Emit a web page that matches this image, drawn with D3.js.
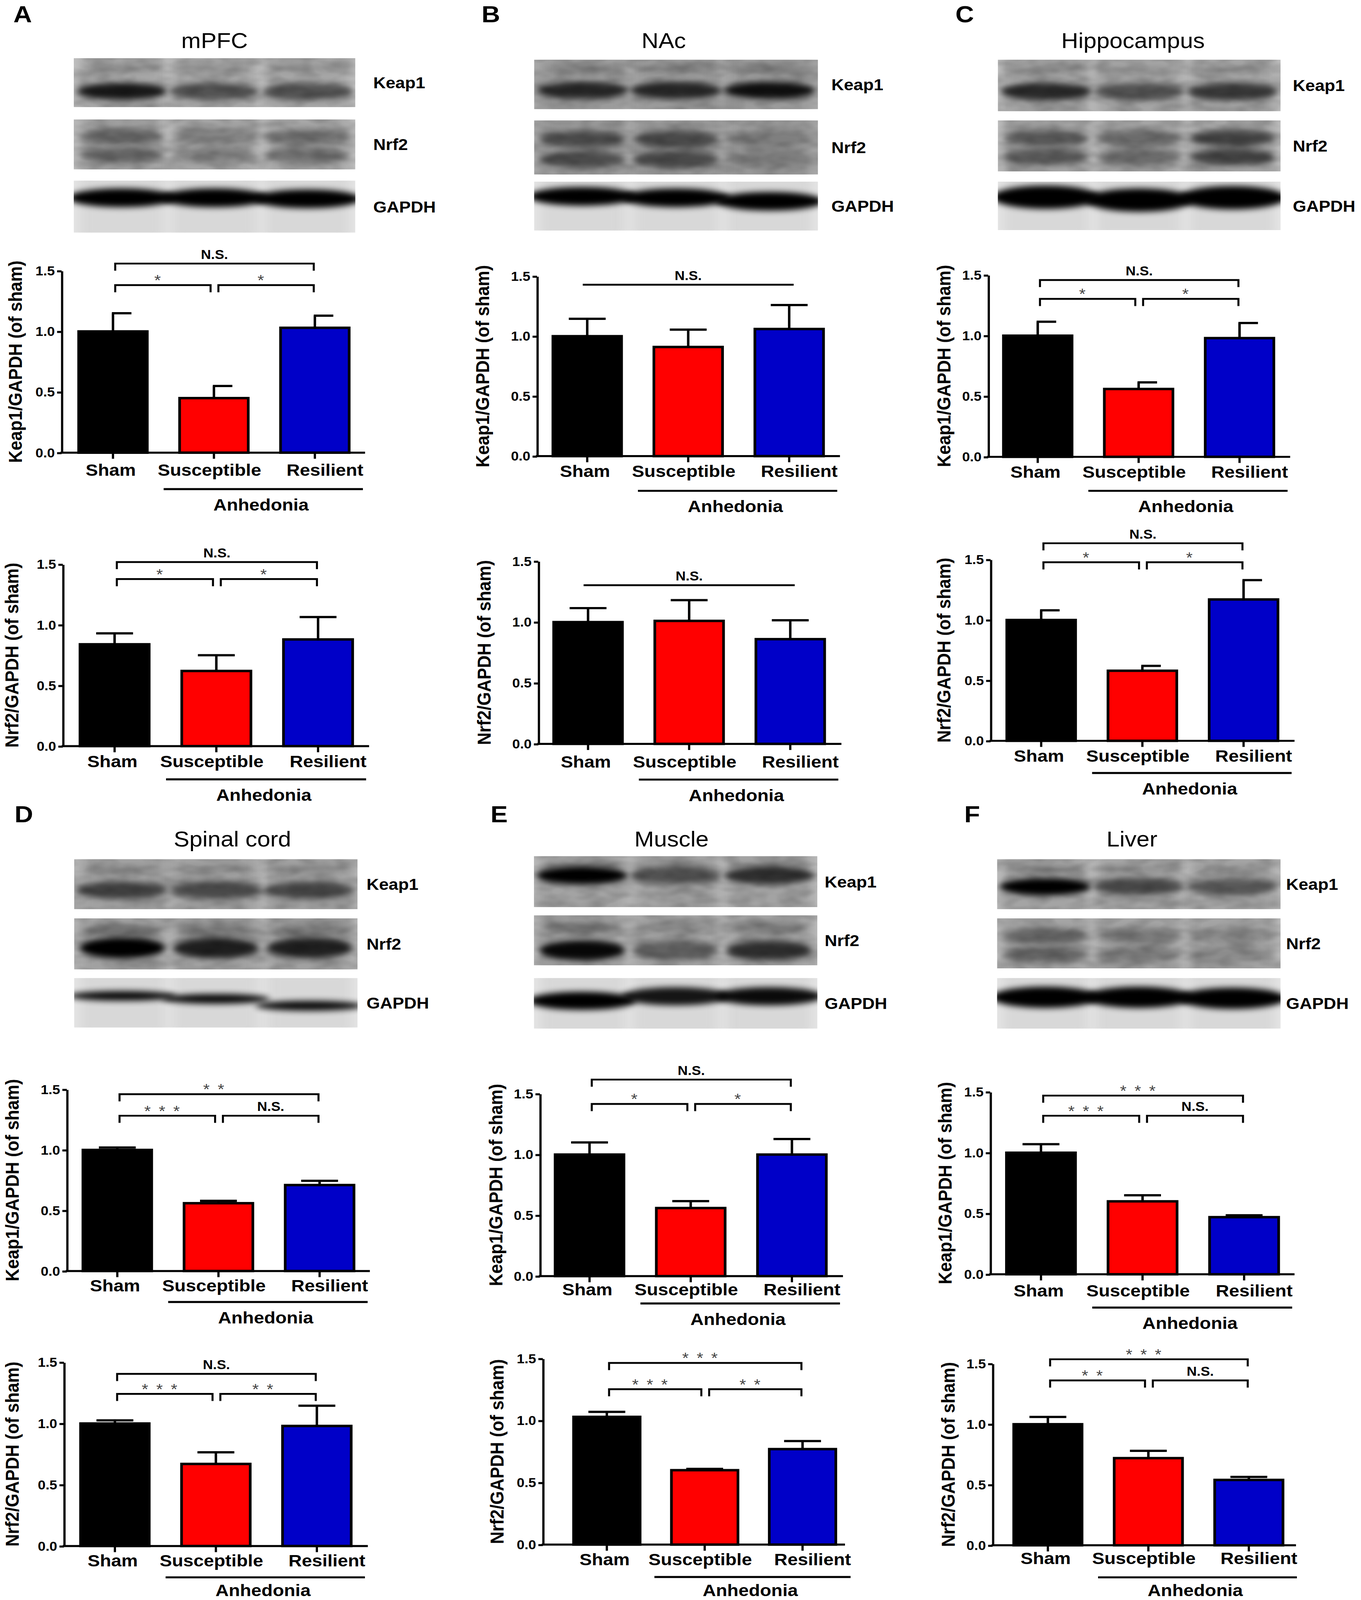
<!DOCTYPE html>
<html>
<head>
<meta charset="utf-8">
<script src="https://cdn.jsdelivr.net/npm/d3@7"></script>
<style>
  html, body { margin: 0; padding: 0; background: #fff; overflow: hidden; }
  #fig { display: block; width: 100vw; height: 100vh; }
  text { font-family: "Liberation Sans", Arial, sans-serif; }
</style>
</head>
<body>
<svg id="fig"></svg>
<script>
let groups = ['Sham', 'Susceptible', 'Resilient']
let tissues = ['mPFC', 'NAc', 'Hippocampus', 'Spinal cord', 'Muscle', 'Liver']
let letters = ['A', 'B', 'C', 'D', 'E', 'F']
let yTicks = [0, 0.5, 1.0, 1.5]

// bar heights and SEM (upper whisker) per tissue, order = groups
let keap1Mean = [[1.00, 0.45, 1.03], [1.00, 0.91, 1.06], [1.00, 0.56, 0.98], [1.00, 0.56, 0.71], [1.00, 0.56, 1.00], [1.00, 0.60, 0.47]]
let keap1Err = [[0.15, 0.10, 0.10], [0.145, 0.145, 0.20], [0.115, 0.055, 0.125], [0.02, 0.02, 0.035], [0.10, 0.057, 0.128], [0.07, 0.05, 0.015]]
let nrf2Mean = [[0.84, 0.62, 0.88], [1.00, 1.01, 0.86], [1.00, 0.58, 1.17], [1.00, 0.67, 0.98], [1.03, 0.60, 0.77], [1.00, 0.72, 0.54]]
let nrf2Err = [[0.09, 0.13, 0.185], [0.115, 0.17, 0.155], [0.08, 0.04, 0.16], [0.026, 0.095, 0.165], [0.04, 0.01, 0.065], [0.06, 0.06, 0.025]]

// comparisons: [from, to, label]
let keap1Sig = [
  [[0, 1, '*'], [1, 2, '*'], [0, 2, 'N.S.']],
  [[0, 2, 'N.S.']],
  [[0, 1, '*'], [1, 2, '*'], [0, 2, 'N.S.']],
  [[0, 1, '***'], [1, 2, 'N.S.'], [0, 2, '**']],
  [[0, 1, '*'], [1, 2, '*'], [0, 2, 'N.S.']],
  [[0, 1, '***'], [1, 2, 'N.S.'], [0, 2, '***']]
]
let nrf2Sig = [
  [[0, 1, '*'], [1, 2, '*'], [0, 2, 'N.S.']],
  [[0, 2, 'N.S.']],
  [[0, 1, '*'], [1, 2, '*'], [0, 2, 'N.S.']],
  [[0, 1, '***'], [1, 2, '**'], [0, 2, 'N.S.']],
  [[0, 1, '***'], [1, 2, '**'], [0, 2, '***']],
  [[0, 1, '**'], [1, 2, 'N.S.'], [0, 2, '***']]
]

// western blot band darkness per lane
let keap1Blot = [[0.85, 0.5, 0.5], [0.75, 0.75, 0.9], [0.75, 0.5, 0.65], [0.6, 0.55, 0.55], [1, 0.5, 0.7], [1, 0.55, 0.45]]
let nrf2Blot = [[0.55, 0.3, 0.45], [0.7, 0.75, 0.25], [0.65, 0.5, 0.85], [1, 0.8, 0.8], [0.95, 0.4, 0.7], [0.55, 0.35, 0.2]]
let gapdhBlot = [[1, 1, 1], [1, 1, 1], [1, 1, 1], [0.95, 0.95, 0.95], [1, 0.9, 0.95], [1, 1, 1]]
let keap1Y = [0.68, 0.62, 0.62, 0.62, 0.38, 0.55]
let nrf2Y = [null, null, null, 0.58, 0.7, null]
let gapdhY = [[0.33, 0.33, 0.35], [0.3, 0.33, 0.4], [0.32, 0.38, 0.33], [0.36, 0.42, 0.56], [0.45, 0.36, 0.36], [0.38, 0.38, 0.4]]
let gapdhH = [0.36, 0.38, 0.48, 0.2, 0.36, 0.42]
let stripGray = ['#c4c4c4', '#ababab', '#c0c0c0', '#b8b8b8', '#bcbcbc', '#bfbfbf']

let panelPos = [
  {letter: [12, 22], title: [192, 47], blotX: [66, 318], blotY: [[57, 105], [117, 166], [177, 228]], labX: 334},
  {letter: [431, 22], title: [594, 47], blotX: [478, 732], blotY: [[58.5, 107], [118, 171], [178, 226]], labX: 744},
  {letter: [855, 22], title: [1014, 47], blotX: [893, 1146], blotY: [[58.5, 109], [118, 168], [178, 225.5]], labX: 1157},
  {letter: [13, 806], title: [208, 829.5], blotX: [66.4, 320], blotY: [[842, 891], [900, 950], [958.5, 1007]], labX: 328},
  {letter: [439, 806], title: [601, 829.5], blotX: [477.8, 731.5], blotY: [[839, 889], [897, 946], [958.5, 1008]], labX: 738},
  {letter: [863, 806], title: [1013, 829.5], blotX: [892.3, 1146], blotY: [[842, 891], [900, 949], [958.5, 1008]], labX: 1151}
]

let frames = [
  {ax: 55.1, ae: 326.7, y0: 443.6, y1: 265.4, bl: 70.4, br: 312.5, top: 258.3, low: 279.4, tx: 13.4, anh: 479.3, lab: 17, capRight: true},
  {ax: 56.2, ae: 330.3, y0: 731.2, y1: 553, bl: 71.6, br: 315.6, top: 550.8, low: 567.5, tx: 10.3, anh: 763.8, lab: 15, capRight: false},
  {ax: 480.6, ae: 751.7, y0: 447, y1: 270.7, bl: 494.8, br: 737, top: 279, low: 0, tx: 431.6, anh: 481, lab: 14.7, capRight: false, flat: true},
  {ax: 481.8, ae: 753, y0: 729, y1: 550, bl: 495.5, br: 738, top: 573.5, low: 0, tx: 433, anh: 764, lab: 17.4, capRight: false, flat: true},
  {ax: 884.4, ae: 1154.6, y0: 447.7, y1: 269.6, bl: 898, br: 1140, top: 274.4, low: 292.9, tx: 844.3, anh: 481, lab: 14.8, capRight: true},
  {ax: 886.5, ae: 1158.5, y0: 726, y1: 548.4, bl: 901, br: 1143.7, top: 532.4, low: 551, tx: 844.3, anh: 757.5, lab: 14.8, capRight: true},
  {ax: 59.8, ae: 331, y0: 1245.6, y1: 1067.6, bl: 74.2, br: 316.8, top: 1072.3, low: 1093.4, tx: 10.8, anh: 1276, lab: 14, capRight: false},
  {ax: 57.2, ae: 329.2, y0: 1515.1, y1: 1335, bl: 72.1, br: 314.3, top: 1346.4, low: 1366, tx: 10.8, anh: 1545.8, lab: 14.3, capRight: false},
  {ax: 483.2, ae: 754.4, y0: 1250.6, y1: 1071.9, bl: 496.8, br: 739.5, top: 1058, low: 1081.9, tx: 443.3, anh: 1277.4, lab: 12.9, capRight: false},
  {ax: 485.8, ae: 756.2, y0: 1513.7, y1: 1331.4, bl: 513.3, br: 748, top: 1335.7, low: 1361.4, tx: 444.5, anh: 1545.5, lab: 14.3, capRight: false},
  {ax: 886.2, ae: 1158.5, y0: 1248.8, y1: 1070.1, bl: 900.7, br: 1144.3, top: 1073.7, low: 1093.4, tx: 845.6, anh: 1281.4, lab: 16, capRight: false},
  {ax: 888.3, ae: 1159.8, y0: 1514.4, y1: 1336.4, bl: 907.2, br: 1148.2, top: 1332.1, low: 1352.8, tx: 848.2, anh: 1545.8, lab: 12.5, capRight: false}
]

let labelShift = [-2, -4, 9]
let laneFrac = [0.17, 0.5, 0.83]

let barColor = d3.scaleOrdinal()
  .domain(groups)
  .range(['#000000', '#ff0000', '#0000c8'])

// drawn in 1218 x 1568 units, stretched to the window
let svg = d3.select('#fig')
  .attr('viewBox', '0 0 1218 1568')
  .attr('preserveAspectRatio', 'none')

let defs = svg.append('defs')
defs.append('filter')
  .attr('id', 'soft')
  .attr('x', '-50%').attr('y', '-150%').attr('width', '200%').attr('height', '400%')
  .append('feGaussianBlur').attr('stdDeviation', 3)
defs.append('filter')
  .attr('id', 'haze')
  .attr('x', '-50%').attr('y', '-50%').attr('width', '200%').attr('height', '200%')
  .append('feGaussianBlur').attr('stdDeviation', 5)

let grain = defs.append('filter')
  .attr('id', 'grain')
  .attr('x', 0).attr('y', 0).attr('width', '100%').attr('height', '100%')
grain.append('feTurbulence')
  .attr('type', 'fractalNoise')
  .attr('baseFrequency', '0.05 0.1')
  .attr('numOctaves', 2)
  .attr('seed', 7)
grain.append('feColorMatrix')
  .attr('values', '0 0 0 0 0  0 0 0 0 0  0 0 0 0 0  0 0 0 -1.1 0.75')
grain.append('feComposite')
  .attr('in2', 'SourceGraphic')
  .attr('operator', 'in')

let stripCount = 0
function drawStrip(x0, x1, top, bottom, bands, light, gray) {
  let id = 'strip' + (stripCount++)
  let w = x1 - x0
  let h = bottom - top
  defs.append('clipPath').attr('id', id)
    .append('rect')
    .attr('x', x0).attr('y', top).attr('width', w).attr('height', h)

  let s = svg.append('g').attr('clip-path', `url(#${id})`)
  s.append('rect')
    .attr('x', x0).attr('y', top).attr('width', w).attr('height', h)
    .attr('fill', light ? '#e6e6e6' : gray)

  laneFrac.forEach((f) => {
    s.append('rect')
      .attr('x', x0 + f * w - w * 0.15)
      .attr('y', top - 10)
      .attr('width', w * 0.3)
      .attr('height', h + 20)
      .attr('fill', light ? '#cccccc' : '#8f8f8f')
      .attr('opacity', 0.55)
      .attr('filter', 'url(#haze)')
  })

  s.selectAll('ellipse')
    .data(bands)
    .enter()
    .append('ellipse')
    .attr('cx', (d) => x0 + laneFrac[d.lane] * w)
    .attr('cy', (d) => top + d.y * h)
    .attr('rx', (d) => d.rx * w)
    .attr('ry', (d) => d.ry * h)
    .attr('fill', '#000')
    .attr('opacity', (d) => d.o)
    .attr('filter', 'url(#soft)')

  if (!light) {
    s.append('rect')
      .attr('x', x0).attr('y', top).attr('width', w).attr('height', h)
      .attr('fill', '#000')
      .attr('opacity', 0.3)
      .attr('filter', 'url(#grain)')
  }
}

function drawChart(f, means, errs, sigs, yLabel) {
  let g = svg.append('g')
  let x = d3.scaleBand()
    .domain(groups)
    .range([f.bl, f.br])
    .paddingInner(0.32)
    .paddingOuter(0)
  let y = d3.scaleLinear()
    .domain([0, 1.5])
    .range([f.y0, f.y1])
  let cx = (name) => x(name) + x.bandwidth() / 2

  let rows = groups.map((name, i) => {
    return {name: name, mean: means[i], err: errs[i]}
  })

  g.selectAll('rect.bar')
    .data(rows)
    .enter()
    .append('rect')
    .attr('class', 'bar')
    .attr('x', (d) => x(d.name))
    .attr('y', (d) => y(d.mean))
    .attr('width', x.bandwidth())
    .attr('height', (d) => f.y0 - y(d.mean))
    .attr('fill', (d) => barColor(d.name))
    .attr('stroke', '#000')
    .attr('stroke-width', 2.4)

  g.selectAll('path.err')
    .data(rows)
    .enter()
    .append('path')
    .attr('class', 'err')
    .attr('d', (d) => {
      let c = cx(d.name)
      let t = y(d.mean + d.err)
      let left = f.capRight ? c - 1 : c - 16.5
      return `M${c},${y(d.mean)}V${t}M${left},${t}H${c + 16.5}`
    })
    .attr('fill', 'none')
    .attr('stroke', '#000')
    .attr('stroke-width', 2.2)

  let yAxis = g.append('g')
    .attr('transform', `translate(${f.ax},0)`)
    .call(d3.axisLeft(y).tickValues(yTicks).tickFormat(d3.format('.1f')).tickSize(4).tickSizeOuter(0).tickPadding(2))
  yAxis.selectAll('path, line').attr('stroke', '#000').attr('stroke-width', 2)
  yAxis.selectAll('text')
    .attr('font-size', 12.5)
    .attr('font-weight', 'bold')
    .attr('fill', '#000')

  let xAxis = g.append('g')
    .attr('transform', `translate(0,${f.y0})`)
    .call(d3.axisBottom(x).tickSize(6).tickSizeOuter(0).tickPadding(f.lab - 11.9))
  xAxis.select('.domain').remove()
  xAxis.selectAll('line').attr('stroke', '#000').attr('stroke-width', 2)
  xAxis.selectAll('text')
    .attr('font-size', 16.5)
    .attr('font-weight', 'bold')
    .attr('fill', '#000')
    .attr('dx', (d, i) => labelShift[i])

  g.append('line')
    .attr('x1', f.ax - 1).attr('x2', f.ae)
    .attr('y1', f.y0).attr('y2', f.y0)
    .attr('stroke', '#000')
    .attr('stroke-width', 2)

  g.append('text')
    .attr('transform', `translate(${f.tx},${(f.y0 + f.y1) / 2}) rotate(-90)`)
    .attr('text-anchor', 'middle')
    .attr('dy', '0.36em')
    .attr('font-size', 17)
    .attr('font-weight', 'bold')
    .text(yLabel)

  sigs.forEach((s) => {
    let [i, j, label] = s
    let stars = label.startsWith('*')
    let x1, x2, ly
    if (f.flat) {
      x1 = cx(groups[i]) - 4
      x2 = cx(groups[j]) + 4
      ly = f.top
      g.append('line')
        .attr('x1', x1).attr('x2', x2).attr('y1', ly).attr('y2', ly)
        .attr('stroke', '#000').attr('stroke-width', 1.8)
    } else {
      x1 = cx(groups[i]) + (i === 1 ? 4 : 2)
      x2 = cx(groups[j]) - (j === 1 ? 3 : 1)
      ly = (j - i === 2) ? f.top : f.low
      g.append('path')
        .attr('d', `M${x1},${ly + 7}V${ly}H${x2}V${ly + 7}`)
        .attr('fill', 'none')
        .attr('stroke', '#000')
        .attr('stroke-width', 1.8)
    }
    g.append('text')
      .attr('x', (x1 + x2) / 2 + (stars ? -4 : 0))
      .attr('y', stars ? ly + 0.5 : ly - 4.5)
      .attr('text-anchor', 'middle')
      .attr('font-size', stars ? 15 : 12.5)
      .attr('font-weight', stars ? 'normal' : 'bold')
      .attr('fill', stars ? '#444' : '#000')
      .attr('letter-spacing', stars ? 1.5 : 0)
      .text(stars ? label.split('').join(' ') : label)
  })

  let a0 = cx(groups[1]) - 45
  let a1 = cx(groups[2]) + 43
  g.append('line')
    .attr('x1', a0).attr('x2', a1)
    .attr('y1', f.anh).attr('y2', f.anh)
    .attr('stroke', '#000')
    .attr('stroke-width', 2)
  g.append('text')
    .attr('x', (a0 + a1) / 2 - 2)
    .attr('y', Math.min(f.anh + 21, 1564))
    .attr('text-anchor', 'middle')
    .attr('font-size', 16.5)
    .attr('font-weight', 'bold')
    .text('Anhedonia')
}

tissues.forEach((tissue, p) => {
  let pp = panelPos[p]

  svg.append('text')
    .attr('x', pp.letter[0])
    .attr('y', pp.letter[1])
    .attr('font-size', 23)
    .attr('font-weight', 'bold')
    .text(letters[p])

  svg.append('text')
    .attr('x', pp.title[0])
    .attr('y', pp.title[1])
    .attr('text-anchor', 'middle')
    .attr('font-size', 21)
    .text(tissue)

  let keapBands = []
  let nrfBands = []
  let gapdhBands = []
  laneFrac.forEach((fr, i) => {
    keapBands.push({lane: i, y: keap1Y[p], rx: 0.16, ry: 0.17, o: keap1Blot[p][i]})
    keapBands.push({lane: i, y: 0.2, rx: 0.14, ry: 0.06, o: keap1Blot[p][i] * 0.25})
    if (nrf2Y[p] === null) {
      nrfBands.push({lane: i, y: 0.35, rx: 0.15, ry: 0.16, o: nrf2Blot[p][i] * 0.7})
      nrfBands.push({lane: i, y: 0.72, rx: 0.15, ry: 0.16, o: nrf2Blot[p][i] * 0.7})
    } else {
      nrfBands.push({lane: i, y: nrf2Y[p], rx: 0.15, ry: 0.2, o: nrf2Blot[p][i]})
      nrfBands.push({lane: i, y: 0.25, rx: 0.14, ry: 0.12, o: nrf2Blot[p][i] * 0.3})
    }
    gapdhBands.push({lane: i, y: gapdhY[p][i], rx: 0.19, ry: gapdhH[p] / 2, o: gapdhBlot[p][i]})
  })

  let blotNames = ['Keap1', 'Nrf2', 'GAPDH']
  let blotBands = [keapBands, nrfBands, gapdhBands]
  blotNames.forEach((name, k) => {
    let [t, b] = pp.blotY[k]
    drawStrip(pp.blotX[0], pp.blotX[1], t, b, blotBands[k], k === 2, stripGray[p])
    svg.append('text')
      .attr('x', pp.labX)
      .attr('y', (t + b) / 2)
      .attr('dy', '0.36em')
      .attr('font-size', 15.5)
      .attr('font-weight', 'bold')
      .text(name)
  })

  drawChart(frames[p * 2], keap1Mean[p], keap1Err[p], keap1Sig[p], 'Keap1/GAPDH (of sham)')
  drawChart(frames[p * 2 + 1], nrf2Mean[p], nrf2Err[p], nrf2Sig[p], 'Nrf2/GAPDH (of sham)')
})
</script>
</body>
</html>
